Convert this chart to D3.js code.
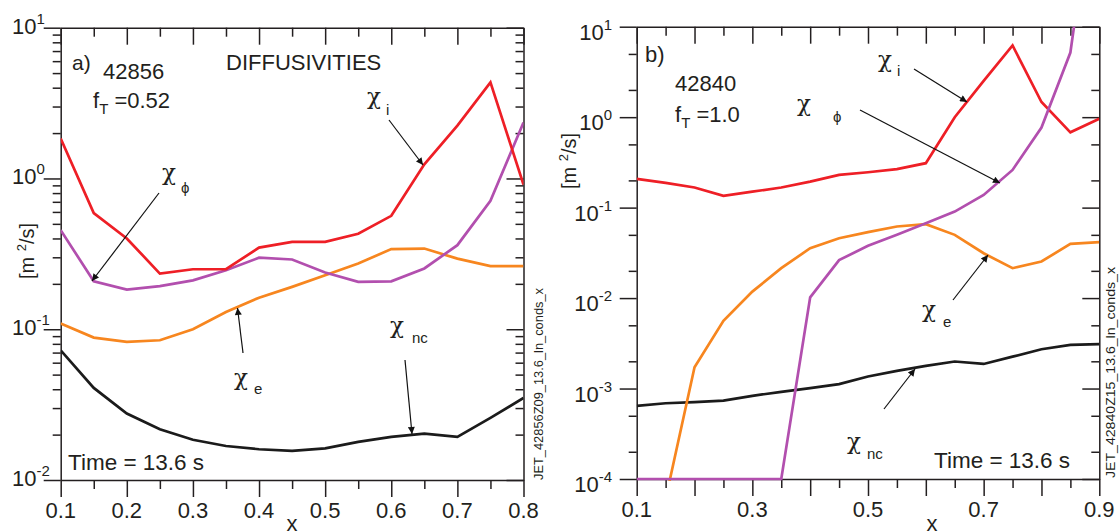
<!DOCTYPE html>
<html><head><meta charset="utf-8">
<script src="https://cdn.jsdelivr.net/npm/d3@7"></script>
<style>
html,body{margin:0;padding:0;background:#fff;}
svg{display:block;}
text{font-family:"Liberation Sans",Arial,Helvetica,sans-serif;fill:#231f20;}
.chi{font-family:"DejaVu Serif",serif;}
</style></head>
<body>
<svg id="chart" width="1120" height="532"></svg>
<script>
// ---------- DATA ----------
// Panel a) shot 42856, f_T = 0.52
const xA = [0.10,0.15,0.20,0.25,0.30,0.35,0.40,0.45,0.50,0.55,0.60,0.65,0.70,0.75,0.80];
const chiI_A   = [1.84,0.59,0.40,0.234,0.25,0.25,0.348,0.38,0.38,0.43,0.565,1.24,2.24,4.34,0.91];
const chiPhi_A = [0.454,0.208,0.183,0.193,0.211,0.246,0.298,0.29,0.238,0.206,0.208,0.253,0.361,0.711,2.35];
const chiE_A   = [0.109,0.088,0.0824,0.0845,0.100,0.130,0.162,0.191,0.228,0.273,0.340,0.343,0.294,0.262,0.262];
const chiNc_A  = [0.0725,0.0408,0.0276,0.0217,0.0185,0.0168,0.0160,0.0156,0.0162,0.0179,0.0193,0.0203,0.0193,0.0258,0.0350];

// Panel b) shot 42840, f_T = 1.0
const xB = [0.10,0.15,0.20,0.25,0.30,0.35,0.40,0.45,0.50,0.55,0.60,0.65,0.70,0.75,0.80,0.85,0.90];
const chiI_B   = [0.208,0.188,0.167,0.135,0.150,0.167,0.194,0.230,0.246,0.266,0.310,1.00,2.52,6.2,1.47,0.68,0.96];
const chiPhi_B = [1e-4,1e-4,1e-4,1e-4,1e-4,1e-4,0.0102,0.0263,0.0378,0.050,0.0673,0.0904,0.138,0.261,0.768,5.18,1000];
const chiE_B   = [3e-5,6e-5,1.72e-3,5.6e-3,0.0118,0.0214,0.0356,0.0459,0.0535,0.0618,0.0656,0.050,0.0313,0.0214,0.0254,0.0397,0.0415];
const chiNc_B  = [6.43e-4,6.88e-4,7.06e-4,7.36e-4,8.3e-4,9.2e-4,1.01e-3,1.12e-3,1.36e-3,1.57e-3,1.78e-3,1.99e-3,1.87e-3,2.25e-3,2.72e-3,3.04e-3,3.09e-3];

// ticks
const xMajorA = [0.1,0.2,0.3,0.4,0.5,0.6,0.7,0.8];
const xMinorA = [0.15,0.25,0.35,0.45,0.55,0.65,0.75];
const xLabelsA = [0.1,0.2,0.3,0.4,0.5,0.6,0.7,0.8];
const yExpA = [-2,-1,0,1];
const yMinorMultA = [2,3,4,5,6,7,8,9];

const xMajorB = [0.1,0.2,0.3,0.4,0.5,0.6,0.7,0.8,0.9];
const xMinorB = [0.15,0.25,0.35,0.45,0.55,0.65,0.75,0.85];
const xLabelsB = [0.1,0.3,0.5,0.7,0.9];
const yExpB = [-4,-3,-2,-1,0,1];
const yMinorMultB = [2,5];

const COL = {i:"#ee1f26", phi:"#b24fae", e:"#f7861f", nc:"#1b1b1b"};

const svg = d3.select("#chart");

function supText(sel, base, sup, supSize, dy){
  sel.append("tspan").text(base);
  sel.append("tspan").attr("font-size", supSize).attr("dy", -dy).text(sup);
}

svg.append("defs").append("marker")
  .attr("id","arr").attr("viewBox","0 0 10 10").attr("refX",10).attr("refY",5)
  .attr("markerWidth",9).attr("markerHeight",7).attr("markerUnits","userSpaceOnUse")
  .attr("orient","auto")
  .append("path").attr("d","M0,0 L10,5 L0,10 Z").attr("fill","#111");

function panel(cfg){
  const g = svg.append("g");
  const x = d3.scaleLinear().domain(cfg.xDomain).range([cfg.left, cfg.right]);
  const y = d3.scaleLog().domain(cfg.yDomain).range([cfg.bottom, cfg.top]);

  const clipId = "clip"+cfg.id;
  svg.select("defs").append("clipPath").attr("id", clipId)
    .append("rect").attr("x", cfg.left).attr("y", cfg.top)
    .attr("width", cfg.right-cfg.left).attr("height", cfg.bottom-cfg.top+2);

  const yMinor = [];
  cfg.yExp.slice(0,-1).forEach(e => cfg.yMinorMult.forEach(m => yMinor.push(m*Math.pow(10,e))));
  const yMajor = cfg.yExp.map(e => Math.pow(10,e));

  const styleAxis = s => { s.selectAll("path,line").attr("stroke","#231f20").attr("stroke-width",1.5); s.selectAll("text").remove(); };
  // left & right axes (ticks point left on both)
  [cfg.left, cfg.right].forEach(px => {
    g.append("g").attr("transform",`translate(${px},0)`)
      .call(d3.axisLeft(y).tickValues(yMajor).tickSize(17).tickSizeOuter(0).tickFormat("")).call(styleAxis);
    g.append("g").attr("transform",`translate(${px},0)`)
      .call(d3.axisLeft(y).tickValues(yMinor).tickSize(8).tickSizeOuter(0).tickFormat("")).call(styleAxis)
      .select(".domain").remove();
  });
  // top & bottom axes (ticks point down on both)
  [cfg.top, cfg.bottom].forEach(py => {
    g.append("g").attr("transform",`translate(0,${py})`)
      .call(d3.axisBottom(x).tickValues(cfg.xMajor).tickSize(17).tickSizeOuter(0).tickFormat("")).call(styleAxis);
    g.append("g").attr("transform",`translate(0,${py})`)
      .call(d3.axisBottom(x).tickValues(cfg.xMinor).tickSize(9).tickSizeOuter(0).tickFormat("")).call(styleAxis)
      .select(".domain").remove();
  });
  // y tick labels
  yMajor.forEach((v,k) => {
    const t = g.append("text").attr("font-size",22)
      .attr("x", cfg.yLabelX).attr("y", y(v)+cfg.yLabelDy)
      .attr("text-anchor", cfg.yLabelAnchor);
    supText(t, "10", String(cfg.yExp[k]), 15, 10);
  });
  // x tick labels
  cfg.xLabels.forEach(v => {
    g.append("text").attr("font-size",22).attr("text-anchor","middle")
      .attr("x", x(v)).attr("y", cfg.bottom+38).text(String(v));
  });
  // axis titles
  g.append("text").attr("font-size",22).attr("text-anchor","middle")
    .attr("x", (x(cfg.xDomain[0])+x(cfg.xDomain[1]))/2 + cfg.xTitleDx).attr("y", 531).text("x");
  const yt = g.append("text").attr("font-size",20).attr("text-anchor","middle")
    .attr("transform",`translate(${cfg.yTitleX},${cfg.yTitleY}) rotate(-90)`);
  yt.append("tspan").text("[m ");
  yt.append("tspan").attr("font-size",13).attr("dy",-8).text("2");
  yt.append("tspan").attr("dy",8).text("/s]");
  // file label
  g.append("text").attr("font-size",12)
    .attr("transform",`translate(${cfg.fileX},${cfg.fileY}) rotate(-90)`)
    .attr("textLength", cfg.fileLen).attr("lengthAdjust","spacingAndGlyphs")
    .attr("fill","#333").text(cfg.fileLabel);

  // series
  const line = d3.line().x(d => x(d[0])).y(d => y(d[1]));
  const lg = g.append("g").attr("clip-path",`url(#${clipId})`);
  cfg.series.forEach(s => {
    lg.append("path").datum(cfg.xs.map((xv,k)=>[xv,s.v[k]]))
      .attr("d", line).attr("fill","none").attr("stroke", s.c)
      .attr("stroke-width",2.7).attr("stroke-linejoin","miter");
  });

  // annotations
  cfg.texts.forEach(t => {
    const el = g.append("text").attr("font-size", t.s||22).attr("x", t.x).attr("y", t.y);
    if (t.sub){
      el.append("tspan").text(t.t);
      el.append("tspan").attr("font-size",15).attr("dy",6).text(t.sub);
      el.append("tspan").attr("dy",-6).text(t.rest);
    } else el.text(t.t);
  });
  cfg.chis.forEach(c => {
    g.append("text").attr("class","chi").attr("font-size",23).attr("x",c.x).attr("y",c.y).text("χ");
    g.append("text").attr("font-size",15).attr("x",c.sx).attr("y",c.sy).text(c.sub);
  });
  cfg.arrows.forEach(a => {
    g.append("line").attr("x1",a[0]).attr("y1",a[1]).attr("x2",a[2]).attr("y2",a[3])
      .attr("stroke","#111").attr("stroke-width",1.2).attr("marker-end","url(#arr)");
  });
}

panel({
  id:"A", xDomain:[0.1,0.8], yDomain:[1e-2,10],
  left:60.7, right:523.5, top:27.7, bottom:480,
  xMajor:xMajorA, xMinor:xMinorA, xLabels:xLabelsA,
  yExp:yExpA, yMinorMult:yMinorMultA,
  yLabelX:12, yLabelDy:6, yLabelAnchor:"start",
  xTitleDx:0, yTitleX:34, yTitleY:251,
  fileX:543, fileY:480, fileLen:192, fileLabel:"JET_42856Z09_13.6_ln_conds_x",
  xs:xA,
  series:[{v:chiNc_A,c:COL.nc},{v:chiE_A,c:COL.e},{v:chiPhi_A,c:COL.phi},{v:chiI_A,c:COL.i}],
  texts:[
    {t:"a)", x:72, y:70, s:21},
    {t:"42856", x:103, y:79, s:22},
    {t:"f", sub:"T", rest:" =0.52", x:93, y:108, s:22},
    {t:"DIFFUSIVITIES", x:226, y:70, s:22},
    {t:"Time = 13.6 s", x:68, y:470, s:22.5}
  ],
  chis:[
    {x:367, y:104, sx:386, sy:115, sub:"i"},
    {x:162, y:180, sx:181, sy:193, sub:"ϕ"},
    {x:234, y:385, sx:254, sy:394, sub:"e"},
    {x:390, y:333, sx:412, sy:343, sub:"nc"}
  ],
  arrows:[[389,120,423,165],[159,193,92,281],[243,353,237.5,308],[405,360,412,434]]
});

panel({
  id:"B", xDomain:[0.1,0.9], yDomain:[1e-4,10],
  left:636.7, right:1099.3, top:26.7, bottom:479,
  xMajor:xMajorB, xMinor:xMinorB, xLabels:xLabelsB,
  yExp:yExpB, yMinorMult:yMinorMultB,
  yLabelX:612, yLabelDy:13, yLabelAnchor:"end",
  xTitleDx:64, yTitleX:576, yTitleY:161,
  fileX:1115, fileY:478, fileLen:211, fileLabel:"JET_42840Z15_13.6_ln_conds_x",
  xs:xB,
  series:[{v:chiNc_B,c:COL.nc},{v:chiE_B,c:COL.e},{v:chiI_B,c:COL.i},{v:chiPhi_B,c:COL.phi}],
  texts:[
    {t:"b)", x:645, y:62, s:22},
    {t:"42840", x:675, y:91, s:22},
    {t:"f", sub:"T", rest:" =1.0", x:675, y:122, s:22},
    {t:"Time = 13.6 s", x:934, y:468, s:22.5}
  ],
  chis:[
    {x:797, y:111, sx:833, sy:122, sub:"ϕ"},
    {x:878, y:67, sx:897, sy:76, sub:"i"},
    {x:922, y:317, sx:943, sy:327, sub:"e"},
    {x:847, y:449, sx:867, sy:459, sub:"nc"}
  ],
  arrows:[[860,110,1000,183],[914,69,967,102],[953,300,988,255],[884,409,915,369]]
});
</script>
</body></html>
